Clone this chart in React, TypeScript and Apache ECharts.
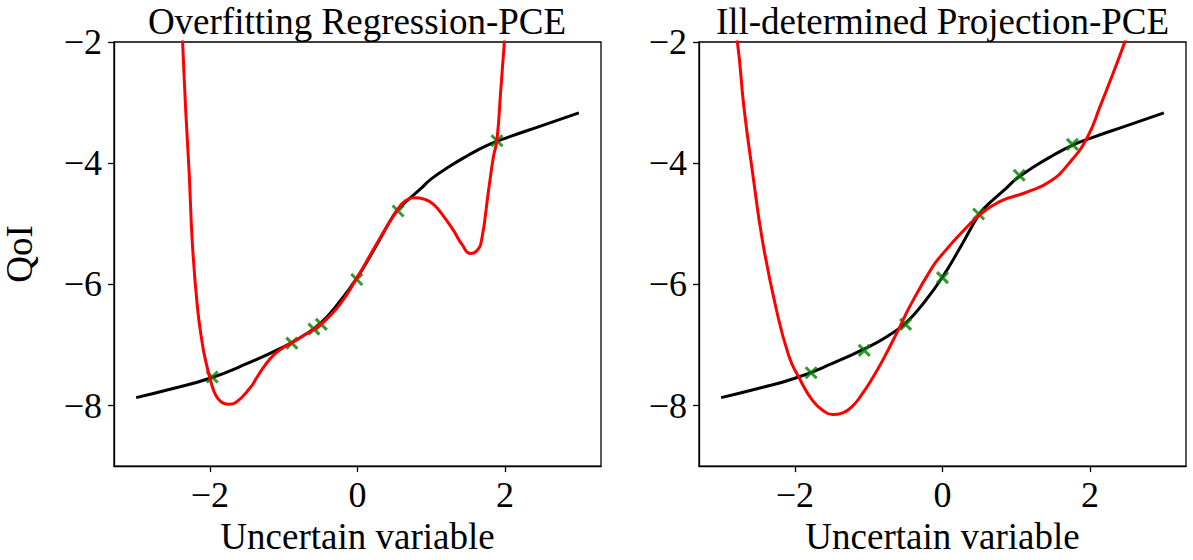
import React, { useEffect, useRef } from "react";
import * as echarts from "echarts";

// True function (black)
const trueX = [-3, -2.5, -2, -1.5, -1, -0.75, -0.5, -0.25, 0, 0.25, 0.5, 0.6, 0.7, 0.85, 1, 1.25, 1.5, 1.75, 2, 2.5, 3];
const trueY = [-7.87, -7.72, -7.55, -7.31, -7.03, -6.86, -6.64, -6.3, -5.88, -5.37, -4.84, -4.7, -4.59, -4.43, -4.26, -4.05, -3.87, -3.71, -3.59, -3.38, -3.17];

// Overfitting regression PCE (red, left)
const regX = [-2.41, -2.37, -2.33, -2.28, -2.24, -2.17, -2.1, -2.06, -2.0, -1.95, -1.9, -1.82, -1.74, -1.65, -1.45, -1.36, -1.25, -1.13, -1.0, -0.9, -0.75, -0.54, -0.4, -0.23, 0, 0.26, 0.53, 0.65, 0.8, 0.92, 1.03, 1.15, 1.3, 1.42, 1.53, 1.62, 1.68, 1.775, 1.84, 1.89, 1.94, 1.99, 2.02];
const regY = [-1.0, -2.0, -3.09, -4.19, -5.28, -6.37, -7.0, -7.25, -7.55, -7.75, -7.87, -7.96, -7.98, -7.95, -7.7, -7.53, -7.33, -7.16, -7.04, -6.97, -6.86, -6.7, -6.55, -6.32, -5.88, -5.33, -4.79, -4.62, -4.57, -4.6, -4.68, -4.85, -5.11, -5.35, -5.49, -5.44, -5.28, -4.46, -3.91, -3.61, -2.82, -2.0, -1.5];

// Ill-determined projection PCE (red, right)
const projX = [-2.85, -2.78, -2.69, -2.57, -2.44, -2.26, -2.08, -1.94, -1.76, -1.6, -1.49, -1.35, -1.22, -1.1, -0.95, -0.8, -0.59, -0.45, -0.15, 0, 0.24, 0.5, 0.78, 1.14, 1.46, 1.73, 1.96, 2.14, 2.32, 2.47, 2.55];
const projY = [-1.6, -2.0, -3.09, -4.19, -5.28, -6.37, -7.19, -7.55, -7.92, -8.1, -8.15, -8.12, -8.01, -7.83, -7.55, -7.23, -6.73, -6.38, -5.74, -5.5, -5.17, -4.86, -4.63, -4.48, -4.3, -3.98, -3.58, -3.05, -2.49, -2.0, -1.7];

// Sample nodes (green x)
const regNodesX = [-1.97, -0.89, -0.59, -0.49, -0.01, 0.55, 1.89];
const regNodesY = [-7.53, -6.97, -6.74, -6.66, -5.92, -4.79, -3.63];
const projNodesX = [-1.78, -1.06, -0.5, 0.0, 0.49, 1.04, 1.76];
const projNodesY = [-7.46, -7.09, -6.66, -5.89, -4.84, -4.2, -3.69];

const xTicks = [-2, 0, 2];
const yTicks = [-8, -6, -4, -2];
const titles = ["Overfitting Regression-PCE", "Ill-determined Projection-PCE"];
const xLabel = "Uncertain variable";
const yLabel = "QoI";

const pairs = (xs: number[], ys: number[]) => xs.map((x, i) => [x, ys[i]]);

export default function App() {
  const ref = useRef<HTMLDivElement>(null);
  useEffect(() => {
    const chart = echarts.init(ref.current!, null, { renderer: "svg" });
    const font = "Liberation Serif";
    const fmt = (v: number) => (v < 0 ? "\u2212" + Math.abs(v) : String(v));
    const grids = [
      { left: 113, top: 42, width: 488, height: 427 },
      { left: 699, top: 42, width: 487, height: 427 },
    ];
    const xSymbol = "path://M0,0L10,10M10,0L0,10";
    const lineData = [pairs(regX, regY), pairs(projX, projY)];
    const nodeData = [pairs(regNodesX, regNodesY), pairs(projNodesX, projNodesY)];
    const series: any[] = [];
    grids.forEach((_, i) => {
      series.push({
        type: "line", xAxisIndex: i, yAxisIndex: i, data: pairs(trueX, trueY),
        showSymbol: false, smooth: 0.5, lineStyle: { color: "#000", width: 3 }, z: 2,
      });
      series.push({
        type: "scatter", xAxisIndex: i, yAxisIndex: i, data: nodeData[i],
        symbol: xSymbol, symbolSize: 11,
        itemStyle: { color: "transparent", borderColor: "#008000", borderWidth: 3 }, z: 3,
      });
      series.push({
        type: "line", xAxisIndex: i, yAxisIndex: i, data: lineData[i],
        showSymbol: false, smooth: 0.5, clip: true, lineStyle: { color: "#ff0000", width: 3 }, z: 4,
      });
    });
    chart.setOption({
      animation: false,
      backgroundColor: "#fff",
      title: grids.map((g, i) => ({
        text: titles[i], left: g.left + g.width / 2, top: 3, textAlign: "center", padding: 0,
        textStyle: { fontFamily: font, fontSize: 37, fontWeight: "normal", color: "#000" },
      })),
      grid: grids.map((g) => ({ ...g, show: true, borderColor: "#000", borderWidth: 1.3, backgroundColor: "transparent" })),
      xAxis: grids.map((_, i) => ({
        type: "value", gridIndex: i, min: -3.3, max: 3.3,
        name: xLabel, nameLocation: "middle", nameGap: 46,
        nameTextStyle: { fontFamily: font, fontSize: 37, color: "#000" },
        axisLine: { show: true, onZero: false, lineStyle: { color: "#000", width: 1.3 } },
        axisTick: { show: true, inside: false, length: 6, lineStyle: { color: "#000", width: 1.3 }, customValues: xTicks },
        axisLabel: { customValues: xTicks, formatter: fmt, fontFamily: font, fontSize: 36, color: "#000", margin: 11 },
        splitLine: { show: false },
      })),
      yAxis: grids.map((_, i) => ({
        type: "value", gridIndex: i, min: -9, max: -2,
        name: i === 0 ? yLabel : "", nameLocation: "middle", nameGap: 76, nameRotate: 90,
        nameTextStyle: { fontFamily: font, fontSize: 37, color: "#000" },
        axisLine: { show: true, onZero: false, lineStyle: { color: "#000", width: 1.3 } },
        axisTick: { show: true, inside: false, length: 6, lineStyle: { color: "#000", width: 1.3 }, customValues: yTicks },
        axisLabel: { customValues: yTicks, formatter: fmt, fontFamily: font, fontSize: 36, color: "#000", margin: 12 },
        splitLine: { show: false },
      })),
      series,
    });
    return () => chart.dispose();
  }, []);
  return <div ref={ref} style={{ position: "fixed", left: 0, top: 0, width: 1193, height: 560 }} />;
}
